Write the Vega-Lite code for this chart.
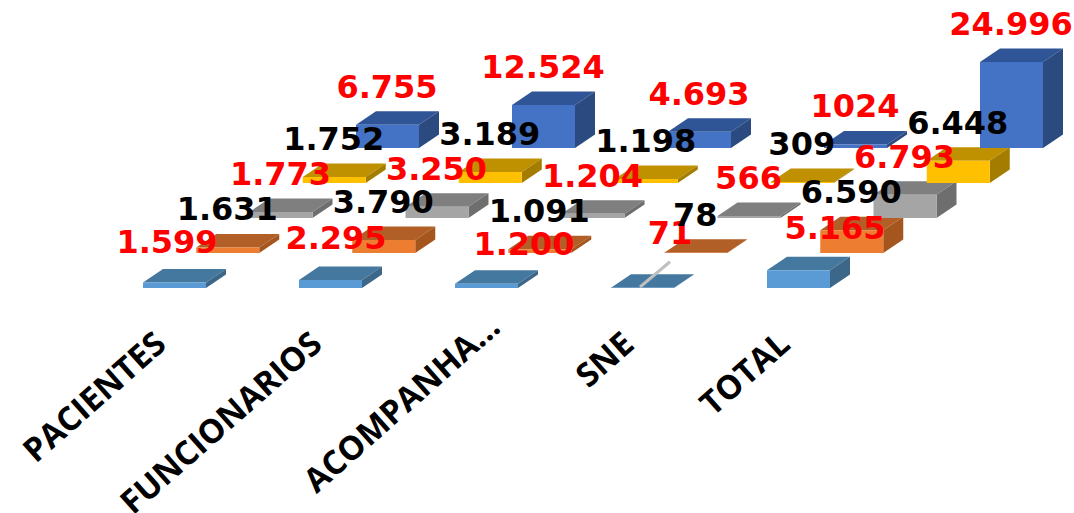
{
"$schema":"https://vega.github.io/schema/vega-lite/v6.json",
"width":1074,"height":513,"padding":0,
"autosize":{"type":"none"},
"background":"white",
"config":{"view":{"stroke":null}},
"datasets":{"bars":[
{"category":"PACIENTES","series":"A","value":1599,"label":"1.599"},
{"category":"FUNCIONARIOS","series":"A","value":2295,"label":"2.295"},
{"category":"ACOMPANHA...","series":"A","value":1200,"label":"1.200"},
{"category":"SNE","series":"A","value":71,"label":"71"},
{"category":"TOTAL","series":"A","value":5165,"label":"5.165"},
{"category":"PACIENTES","series":"B","value":1631,"label":"1.631"},
{"category":"FUNCIONARIOS","series":"B","value":3790,"label":"3.790"},
{"category":"ACOMPANHA...","series":"B","value":1091,"label":"1.091"},
{"category":"SNE","series":"B","value":78,"label":"78"},
{"category":"TOTAL","series":"B","value":6590,"label":"6.590"},
{"category":"PACIENTES","series":"C","value":1773,"label":"1.773"},
{"category":"FUNCIONARIOS","series":"C","value":3250,"label":"3.250"},
{"category":"ACOMPANHA...","series":"C","value":1204,"label":"1.204"},
{"category":"SNE","series":"C","value":566,"label":"566"},
{"category":"TOTAL","series":"C","value":6793,"label":"6.793"},
{"category":"PACIENTES","series":"D","value":1752,"label":"1.752"},
{"category":"FUNCIONARIOS","series":"D","value":3189,"label":"3.189"},
{"category":"ACOMPANHA...","series":"D","value":1198,"label":"1.198"},
{"category":"SNE","series":"D","value":309,"label":"309"},
{"category":"TOTAL","series":"D","value":6448,"label":"6.448"},
{"category":"PACIENTES","series":"E","value":6755,"label":"6.755"},
{"category":"FUNCIONARIOS","series":"E","value":12524,"label":"12.524"},
{"category":"ACOMPANHA...","series":"E","value":4693,"label":"4.693"},
{"category":"SNE","series":"E","value":1024,"label":"1024"},
{"category":"TOTAL","series":"E","value":24996,"label":"24.996"}
]},
"data":{"name":"bars"},
"transform":[
{"calculate":"indexof(['PACIENTES','FUNCIONARIOS','ACOMPANHA...','SNE','TOTAL'],datum.category)","as":"ci"},
{"calculate":"indexof(['A','B','C','D','E'],datum.series)","as":"si"},
{"calculate":"143+156*datum.ci+53.25*datum.si","as":"x0"},
{"calculate":"datum.x0+63","as":"x1"},
{"calculate":"288-35*datum.si","as":"yb"},
{"calculate":"datum.yb-datum.value*0.00344","as":"yt"},
{"calculate":"datum.si==0?[24,37,69,59,68][datum.ci]:31","as":"ldx"},
{"calculate":"datum.si==0?[39,41,39,54,41][datum.ci]:37","as":"ldy"},
{"calculate":"datum.x0+datum.ldx","as":"lx"},
{"calculate":"datum.yt-datum.ldy","as":"ly"}
],
"layer":[
{"mark":{"type":"area","orient":"horizontal"},
"transform":[{"calculate":"[0,1]","as":"t"},{"flatten":["t"]},
{"calculate":"datum.x0+20*datum.t","as":"ax"},{"calculate":"datum.x1+20*datum.t","as":"ax2"},{"calculate":"datum.yt-13.5*datum.t","as":"ay"}],
"encoding":{
"x":{"field":"ax","type":"quantitative","stack":null,"axis":null,"scale":{"domain":[0,1074],"nice":false,"zero":false}},
"x2":{"field":"ax2"},
"y":{"field":"ay","type":"quantitative","axis":null,"scale":{"domain":[513,0],"nice":false,"zero":false}},
"detail":{"field":"category"},
"color":{"field":"series","type":"nominal","legend":null,"scale":{"domain":["A","B","C","D","E"],"range":["#44789F","#B15F27","#7F7F7F","#BF9000","#2F5597"]}}
}},
{"mark":{"type":"area","orient":"vertical"},
"transform":[{"calculate":"[0,1]","as":"t"},{"flatten":["t"]},
{"calculate":"datum.x1+20*datum.t","as":"bx"},{"calculate":"datum.yt-13.5*datum.t","as":"by"},{"calculate":"datum.yb-13.5*datum.t","as":"by2"}],
"encoding":{
"x":{"field":"bx","type":"quantitative","axis":null,"scale":{"domain":[0,1074],"nice":false,"zero":false}},
"y":{"field":"by","type":"quantitative","stack":null,"axis":null,"scale":{"domain":[513,0],"nice":false,"zero":false}},
"y2":{"field":"by2"},
"detail":{"field":"category"},
"color":{"field":"series","type":"nominal","legend":null,"scale":{"domain":["A","B","C","D","E"],"range":["#3C6789","#A5561F","#6E6E6E","#A37C00","#2B4A80"]}}
}},
{"mark":{"type":"rect"},
"encoding":{
"x":{"field":"x0","type":"quantitative","axis":null,"scale":{"domain":[0,1074],"nice":false,"zero":false}},
"x2":{"field":"x1"},
"y":{"field":"yt","type":"quantitative","axis":null,"scale":{"domain":[513,0],"nice":false,"zero":false}},
"y2":{"field":"yb"},
"color":{"field":"series","type":"nominal","legend":null,"scale":{"domain":["A","B","C","D","E"],"range":["#5B9BD5","#ED7D31","#A5A5A5","#FFC000","#4472C4"]}}
}},
{"mark":{"type":"rule","color":"#BFBFBF","strokeWidth":3},
"transform":[{"filter":"datum.series=='A'&&datum.category=='SNE'"},
{"calculate":"datum.x0+29","as":"rx"},{"calculate":"datum.lx","as":"rx2"},{"calculate":"datum.yb-1","as":"ry"},{"calculate":"datum.ly+28","as":"ry2"}],
"encoding":{
"x":{"field":"rx","type":"quantitative","axis":null,"scale":{"domain":[0,1074],"nice":false,"zero":false}},
"x2":{"field":"rx2"},
"y":{"field":"ry","type":"quantitative","axis":null,"scale":{"domain":[513,0],"nice":false,"zero":false}},
"y2":{"field":"ry2"}
}},
{"mark":{"type":"text","font":"DejaVu Sans","fontWeight":"bold","fontSize":32,"align":"center","baseline":"middle"},
"encoding":{
"x":{"field":"lx","type":"quantitative","axis":null,"scale":{"domain":[0,1074],"nice":false,"zero":false}},
"y":{"field":"ly","type":"quantitative","axis":null,"scale":{"domain":[513,0],"nice":false,"zero":false}},
"text":{"field":"label"},
"color":{"field":"series","type":"nominal","legend":null,"scale":{"domain":["A","B","C","D","E"],"range":["#FF0000","#000000","#FF0000","#000000","#FF0000"]}}
}},
{"mark":{"type":"text","font":"Open Sans","fontWeight":"bold","fontSize":33,"align":"right","baseline":"alphabetic","angle":318.5,"color":"#000000"},
"transform":[{"filter":"datum.series=='A'"},
{"calculate":"168+156*datum.ci+(datum.ci==2?22:0)","as":"tx"},{"calculate":"datum.ci==2?330:347","as":"ty"}],
"encoding":{
"x":{"field":"tx","type":"quantitative","axis":null,"scale":{"domain":[0,1074],"nice":false,"zero":false}},
"y":{"field":"ty","type":"quantitative","axis":null,"scale":{"domain":[513,0],"nice":false,"zero":false}},
"text":{"field":"category"}
}}
],
"resolve":{"scale":{"color":"independent"}}
}
